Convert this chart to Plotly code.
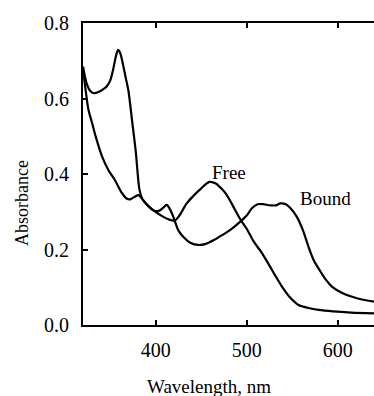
import plotly.graph_objects as go

# Free form spectrum
wl_free = [320, 323, 326, 330, 334, 341, 348, 355, 363, 368, 372, 377, 381, 386, 392, 399, 408, 414, 421,
           426, 434, 441, 450, 459, 466, 472, 478, 485, 493, 500, 508, 517, 528, 539, 548, 557, 568, 579,
           595, 615, 640]
abs_free = [0.68, 0.62, 0.57, 0.535, 0.499, 0.446, 0.41, 0.384, 0.349, 0.335, 0.333, 0.34, 0.344, 0.331, 0.315,
            0.301, 0.287, 0.28, 0.277, 0.29, 0.322, 0.341, 0.362, 0.379, 0.375, 0.362, 0.345, 0.315, 0.28,
            0.255, 0.22, 0.19, 0.145, 0.101, 0.072, 0.053, 0.045, 0.04, 0.036, 0.033, 0.031]

# Bound form spectrum
wl_bound = [320, 324, 328, 332, 337, 342, 346, 350, 353, 356, 358.5, 361, 364, 367, 370, 374, 378, 382, 385,
            389, 394, 399, 404, 408, 412, 416, 420, 425, 431, 438, 447, 455, 464, 473, 482, 493, 500, 506,
            512, 518, 526, 532, 537, 543, 548, 555, 562, 568, 574, 580, 587, 594, 605, 616, 628, 640]
abs_bound = [0.685, 0.64, 0.62, 0.614, 0.617, 0.624, 0.632, 0.648, 0.675, 0.71, 0.729, 0.72, 0.69, 0.655,
             0.62, 0.54, 0.46, 0.36, 0.335, 0.322, 0.31, 0.302, 0.303, 0.31, 0.318, 0.305, 0.282, 0.25, 0.232,
             0.218, 0.212, 0.215, 0.225, 0.238, 0.252, 0.274, 0.29, 0.31, 0.32, 0.32, 0.317, 0.317, 0.322,
             0.32, 0.31, 0.287, 0.25, 0.207, 0.17, 0.146, 0.12, 0.101, 0.085, 0.075, 0.067, 0.062]

x_ticks = [400, 500, 600]
y_ticks = [0.0, 0.2, 0.4, 0.6, 0.8]
y_tick_text = ["0.0", "0.2", "0.4", "0.6", "0.8"]

FONT = "Liberation Serif, Times New Roman, serif"

fig = go.Figure()
for name, xs, ys in [("Free", wl_free, abs_free), ("Bound", wl_bound, abs_bound)]:
    fig.add_trace(go.Scatter(x=xs, y=ys, mode="lines", name=name,
                             line=dict(color="black", width=2.2, shape="spline", smoothing=0.8),
                             showlegend=False, cliponaxis=True))

fig.add_annotation(x=481, y=0.403, text="Free", showarrow=False, xref="x", yref="y",
                   xanchor="center", yanchor="middle",
                   font=dict(family=FONT, size=19, color="black"))
fig.add_annotation(x=587, y=0.334, text="Bound", showarrow=False, xref="x", yref="y",
                   xanchor="center", yanchor="middle",
                   font=dict(family=FONT, size=19, color="black"))

# axis titles
fig.add_annotation(x=0.433, y=-0.205, xref="paper", yref="paper", text="Wavelength, nm",
                   xanchor="center", yanchor="middle",
                   showarrow=False, font=dict(family=FONT, size=19, color="black"))
fig.add_annotation(x=-0.21, y=0.404, xref="paper", yref="paper", text="Absorbance",
                   xanchor="center", yanchor="middle",
                   textangle=-90, showarrow=False, font=dict(family=FONT, size=18, color="black"))

fig.update_xaxes(range=[320, 640], tickvals=x_ticks, ticks="inside", ticklen=5, tickwidth=1.5,
                 tickcolor="black", showline=True, linecolor="black", linewidth=2, mirror="ticks",
                 showgrid=False, zeroline=False,
                 tickfont=dict(family=FONT, size=20, color="black"), ticklabelstandoff=6)
fig.update_yaxes(range=[0, 0.8], tickvals=y_ticks, ticktext=y_tick_text, ticks="inside", ticklen=5,
                 tickwidth=1.5, tickcolor="black", showline=True, linecolor="black", linewidth=2,
                 showgrid=False, zeroline=False,
                 tickfont=dict(family=FONT, size=20, color="black"), ticklabelstandoff=8)

fig.update_layout(width=374, height=396, margin=dict(l=83, r=0, t=23, b=71),
                  paper_bgcolor="white", plot_bgcolor="white")

fig.write_html("out.html", config={"displayModeBar": False},
               post_script="document.body.style.margin='0';document.body.style.overflow='hidden';")
